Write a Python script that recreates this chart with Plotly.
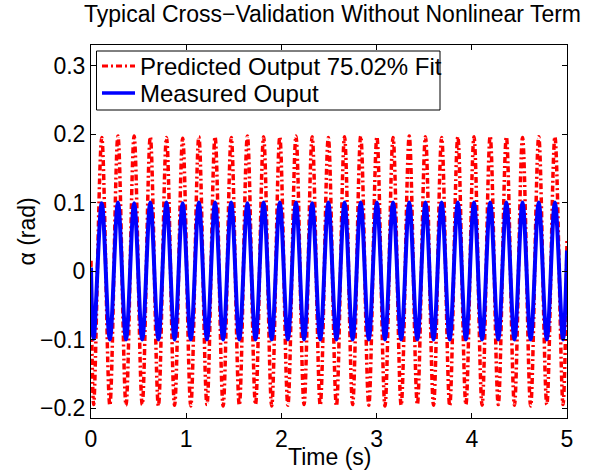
import plotly.graph_objects as go

# Time (s) of start, alternating troughs/peaks, and end
time_s = [0.0, 0.028, 0.113, 0.198, 0.283, 0.368, 0.453, 0.538, 0.623, 0.708, 0.793,
          0.878, 0.963, 1.048, 1.133, 1.218, 1.303, 1.388, 1.473, 1.558, 1.643,
          1.728, 1.813, 1.898, 1.983, 2.068, 2.153, 2.238, 2.323, 2.408, 2.493,
          2.578, 2.663, 2.748, 2.833, 2.918, 3.003, 3.088, 3.173, 3.258, 3.343,
          3.428, 3.513, 3.598, 3.683, 3.768, 3.853, 3.938, 4.023, 4.108, 4.193,
          4.278, 4.363, 4.448, 4.533, 4.618, 4.703, 4.788, 4.873, 4.958, 5.0]

measured = [0.005, -0.099, 0.099, -0.100, 0.100, -0.100, 0.099, -0.100, 0.100, -0.100, 0.100,
            -0.100, 0.099, -0.100, 0.100, -0.100, 0.100, -0.100, 0.100, -0.100, 0.099,
            -0.100, 0.100, -0.100, 0.100, -0.100, 0.100, -0.100, 0.099, -0.100, 0.100,
            -0.100, 0.100, -0.100, 0.100, -0.100, 0.100, -0.100, 0.100, -0.100, 0.100,
            -0.100, 0.100, -0.100, 0.100, -0.100, 0.100, -0.100, 0.100, -0.100, 0.100,
            -0.100, 0.100, -0.100, 0.100, -0.100, 0.100, -0.100, 0.100, -0.100, 0.030]

predicted = [0.015, -0.195, 0.195, -0.196, 0.197, -0.196, 0.197, -0.195, 0.196, -0.197, 0.195,
             -0.196, 0.194, -0.197, 0.196, -0.195, 0.196, -0.197, 0.195, -0.196, 0.197,
             -0.195, 0.196, -0.197, 0.196, -0.196, 0.197, -0.195, 0.196, -0.196, 0.195,
             -0.197, 0.196, -0.195, 0.197, -0.196, 0.196, -0.197, 0.195, -0.196, 0.197,
             -0.195, 0.196, -0.196, 0.195, -0.197, 0.196, -0.195, 0.196, -0.196, 0.197,
             -0.195, 0.196, -0.196, 0.195, -0.197, 0.196, -0.195, 0.196, -0.195, 0.045]

series_names = ["Predicted Output 75.02% Fit", "Measured Ouput"]
series_colors = ["#ff0000", "#0000ff"]

x_ticks = [0, 1, 2, 3, 4, 5]
y_ticks = [-0.2, -0.1, 0, 0.1, 0.2, 0.3]
y_tick_text = ["\u22120.2", "\u22120.1", "0", "0.1", "0.2", "0.3"]

FONT = "Liberation Sans, Arial, Helvetica, sans-serif"
W, H = 593, 473
L, R, T, B = 91, 26, 45, 55
PW, PH = W - L - R, H - T - B


def px_x(px):
    return (px - L) / PW


def px_y(py):
    return (H - B - py) / PH


RED_DASH = "6px,3px,2px,3px"

fig = go.Figure()
fig.add_trace(go.Scatter(
    x=time_s, y=predicted, mode="lines", name=series_names[0], showlegend=False,
    line=dict(color=series_colors[0], width=3.5, dash=RED_DASH, shape="spline", smoothing=1.0),
))
fig.add_trace(go.Scatter(
    x=time_s, y=measured, mode="lines", name=series_names[1], showlegend=False,
    line=dict(color=series_colors[1], width=4, shape="spline", smoothing=1.0),
))

axis_common = dict(
    showgrid=False, zeroline=False, showline=True, linecolor="black", linewidth=1,
    mirror="ticks", ticks="inside", ticklen=5, tickcolor="black", automargin=False,
    tickfont=dict(family=FONT, size=23, color="black"),
)

fig.update_layout(
    width=W, height=H,
    margin=dict(l=L, r=R, t=T, b=B),
    paper_bgcolor="white", plot_bgcolor="white",
    title=dict(text="Typical Cross\u2212Validation Without Nonlinear Term",
               font=dict(family=FONT, size=23, color="black"),
               x=(82 + 583) / 2 / W, xanchor="center",
               yref="container", y=1 - 14 / H, yanchor="middle"),
    xaxis=dict(range=[0, 5], tickvals=x_ticks, ticktext=[str(v) for v in x_ticks],
               **axis_common),
    yaxis=dict(range=[-0.2146, 0.33], tickvals=y_ticks, ticktext=y_tick_text,
               **axis_common),
    showlegend=False,
)

# custom legend box (MATLAB style)
fig.add_shape(type="rect", xref="paper", yref="paper",
              x0=px_x(96.5), x1=px_x(440), y0=px_y(110), y1=px_y(51),
              line=dict(color="black", width=1), fillcolor="white", layer="above")
row_y = [66, 93]
line_dash = [RED_DASH, "solid"]
line_w = [3, 3.5]
for name, color, ry, dsh, lw in zip(series_names, series_colors, row_y, line_dash, line_w):
    fig.add_shape(type="line", xref="paper", yref="paper",
                  x0=px_x(102), x1=px_x(135), y0=px_y(ry), y1=px_y(ry),
                  line=dict(color=color, width=lw, dash=dsh), layer="above")
    fig.add_annotation(text=name, xref="paper", yref="paper",
                       x=px_x(138), y=px_y(ry), xanchor="left", yanchor="middle",
                       showarrow=False, font=dict(family=FONT, size=24, color="black"))

# axis titles
fig.add_annotation(text="Time (s)", xref="paper", yref="paper",
                   x=0.5, y=px_y(457), xanchor="center", yanchor="middle",
                   showarrow=False, font=dict(family=FONT, size=23, color="black"))
fig.add_annotation(text="\u03b1 (rad)", xref="paper", yref="paper", textangle=-90,
                   x=px_x(26), y=0.5, xanchor="center", yanchor="middle",
                   showarrow=False, font=dict(family=FONT, size=23, color="black"))

fig.write_html("out.html", config={"displayModeBar": False},
               post_script="document.body.style.margin='0';document.body.style.overflow='hidden';")
